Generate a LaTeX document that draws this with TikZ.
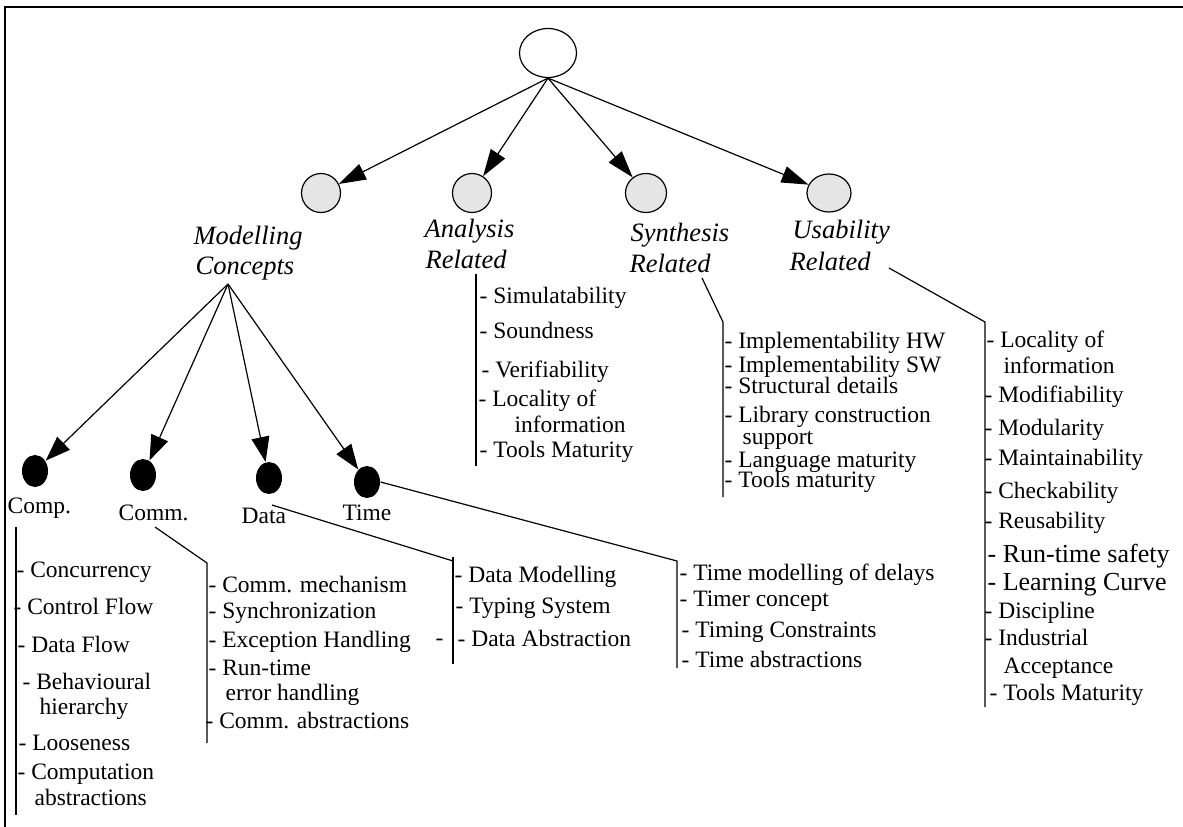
\documentclass[tikz,border=0pt]{standalone}
\usepackage{fontspec}
\setmainfont{Liberation Serif}
\usetikzlibrary{shapes.geometric,arrows.meta}
\begin{document}
\begin{tikzpicture}[x=1pt,y=-1pt,
  line width=1.2pt,
  item/.style={anchor=base west, inner sep=0pt, text depth=0pt, font=\fontsize{23.5}{28}\selectfont},
  bigitem/.style={anchor=base west, inner sep=0pt, text depth=0pt, font=\fontsize{26}{30}\selectfont},
  cat/.style={anchor=base west, inner sep=0pt, font=\fontsize{26.5}{30}\selectfont\itshape},
  grayc/.style={ellipse, draw, fill=gray!20, line width=1.2pt, inner sep=0pt},
  blackc/.style={ellipse, fill=black, inner sep=0pt, minimum width=26pt, minimum height=32pt},
  arr/.style={-{Triangle[length=27pt,width=17pt]}},
  subarr/.style={-{Triangle[length=25pt,width=18pt]}},
  ]
\useasboundingbox (0,0) rectangle (1183,827);
% frame
\draw[line width=2pt] (5,827) -- (5,7) -- (1183,7);

% root and categories
\node[ellipse,draw,minimum width=57pt,minimum height=49pt,inner sep=0pt] (root) at (548,53) {};
\node[grayc,minimum width=39pt,minimum height=39pt] (mod) at (321,193) {};
\node[grayc,minimum width=39pt,minimum height=39pt] (ana) at (472,193) {};
\node[grayc,minimum width=41pt,minimum height=39pt] (syn) at (646,193) {};
\node[grayc,minimum width=44pt,minimum height=38pt] (usa) at (829,193) {};
\draw[arr] (root.south) -- (mod);
\draw[arr] (root.south) -- (ana);
\draw[arr] (root.south) -- (syn);
\draw[arr] (root.south) -- (usa);

\node[cat] (modA) at (193,244) {Modelling};
\node[cat] (modB) at (195,274) {Concepts};
\node[cat] (anaA) at (424,237) {Analysis};
\node[cat] (anaB) at (425,268) {Related};
\node[cat] (synA) at (630,241) {Synthesis};
\node[cat] (synB) at (629,272) {Related};
\node[cat] (usaA) at (792,238) {Usability};
\node[cat] (usaB) at (789,270) {Related};

% modelling concepts subtree
\coordinate (mc) at (228,284);
\node[blackc] (comp) at (35,471) {};
\node[blackc] (comm) at (143,475) {};
\node[blackc] (data) at (269,478) {};
\node[blackc] (time) at (367,482) {};
\draw[subarr] (mc) -- (comp);
\draw[subarr] (mc) -- (comm);
\draw[subarr] (mc) -- (data);
\draw[subarr] (mc) -- (time);
\node[item] (compL) at (7,513) {Comp.};
\node[item] (commL) at (118,520) {Comm.};
\node[item] (dataL) at (241,523) {Data};
\node[item] (timeL) at (342,520) {Time};

% connectors to lists
\coordinate (c1) at (16,527); \coordinate (c2) at (16,815);
\draw (c1) -- (c2);
\coordinate (m0) at (155,527); \coordinate (m1) at (207,563); \coordinate (m2) at (207,743);
\draw (m0) -- (m1) -- (m2);
\coordinate (d0) at (272,505); \coordinate (d1) at (453,561); \coordinate (d2) at (453,664);
\coordinate (d1b) at (453,557);
\draw (d0) -- (d1); \draw (d1b) -- (d2);
\coordinate (t1) at (677,561); \coordinate (t2) at (677,668);
\draw (time.east) -- (t1) -- (t2);
\coordinate (a1) at (476,274); \coordinate (a2) at (476,466);
\draw (a1) -- (a2);
\coordinate (s0) at (702,278); \coordinate (s1) at (723,322); \coordinate (s2) at (723,497);
\draw (s0) -- (s1) -- (s2);
\coordinate (u0) at (889,268); \coordinate (u1) at (985,322); \coordinate (u2) at (985,707);
\draw (u0) -- (u1) -- (u2);

% Comp list
\node[item] (cp1) at (16,577) {- Concurrency};
\node[item] (cp2) at (13,614) {- Control Flow};
\node[item] (cp3) at (17,652) {- Data Flow};
\node[item] (cp4) at (22,689) {- Behavioural};
\node[item] (cp4b) at (39,714) {hierarchy};
\node[item] (cp5) at (18,750) {- Looseness};
\node[item] (cp6) at (17,779) {- Computation};
\node[item] (cp6b) at (34,805) {abstractions};

% Comm list
\node[item] (cm1) at (208,592) {- Comm. mechanism};
\node[item] (cm2) at (208,618) {- Synchronization};
\node[item] (cm3) at (208,647) {- Exception Handling};
\node[item] (cm4) at (208,675) {- Run-time};
\node[item] (cm4b) at (225,700) {error handling};
\node[item] (cm5) at (205,728) {- Comm. abstractions};

% Data list
\node[item] (dt1) at (454,582) {- Data Modelling};
\node[item] (dt2) at (455,613) {- Typing System};
\node[item] (dt3) at (457,646) {- Data Abstraction};
\node[item] (dtx) at (435,645) {-};

% Time list
\node[item] (tm1) at (679,580) {- Time modelling of delays};
\node[item] (tm2) at (679,606) {- Timer concept};
\node[item] (tm3) at (681,637) {- Timing Constraints};
\node[item] (tm4) at (681,667) {- Time abstractions};

% Analysis list
\node[item] (an1) at (479,303) {- Simulatability};
\node[item] (an2) at (479,338) {- Soundness};
\node[item] (an3) at (481,377) {- Verifiability};
\node[item] (an4) at (478,406) {- Locality of};
\node[item] (an4b) at (514,432) {information};
\node[item] (an5) at (479,457) {- Tools Maturity};

% Synthesis list
\node[item] (sy1) at (724,348) {- Implementability HW};
\node[item] (sy2) at (724,372) {- Implementability SW};
\node[item] (sy3) at (724,393) {- Structural details};
\node[item] (sy4) at (724,422) {- Library construction};
\node[item] (sy4b) at (742,444) {support};
\node[item] (sy5) at (724,467) {- Language maturity};
\node[item] (sy6) at (724,487) {- Tools maturity};

% Usability list
\node[item] (us1) at (986,347) {- Locality of};
\node[item] (us1b) at (1003,373) {information};
\node[item] (us2) at (984,402) {- Modifiability};
\node[item] (us3) at (984,435) {- Modularity};
\node[item] (us4) at (984,465) {- Maintainability};
\node[item] (us5) at (984,498) {- Checkability};
\node[item] (us6) at (984,528) {- Reusability};
\node[bigitem] (us7) at (987,562) {- Run-time safety};
\node[bigitem] (us8) at (987,590) {- Learning Curve};
\node[item] (us9) at (984,618) {- Discipline};
\node[item] (us10) at (984,645) {- Industrial};
\node[item] (us10b) at (1003,673) {Acceptance};
\node[item] (us11) at (989,700) {- Tools Maturity};
\end{tikzpicture}
\end{document}
